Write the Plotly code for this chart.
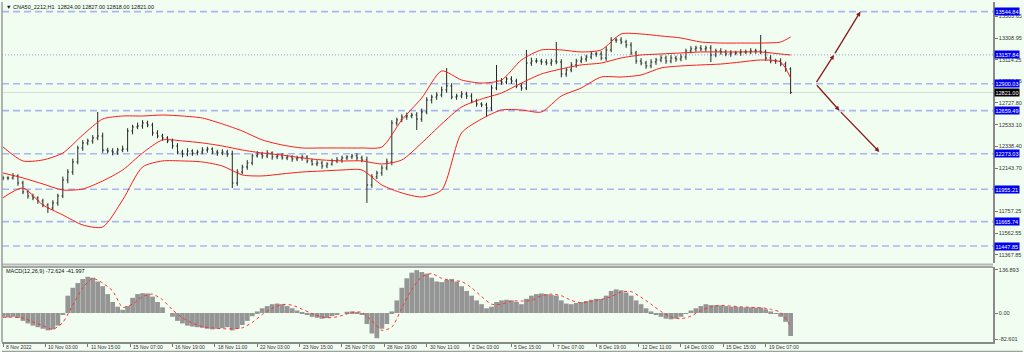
import plotly.graph_objects as go

# ---------------- data ----------------
header_text = "CNA50_2212,H1  12824.00 12827.00 12818.00 12821.00"
macd_text = "MACD(12,26,9) -72.624 -41.997"

close = [
    12057, 12057, 12075, 12012, 11932, 11896, 11878, 11851, 11815, 11788,
    11833, 11896, 12039, 12110, 12200, 12325, 12370, 12388, 12415, 12432,
    12307, 12298, 12289, 12307, 12316, 12477, 12513, 12522, 12549, 12531,
    12459, 12432, 12415, 12388, 12343, 12289, 12271, 12298, 12280, 12289,
    12307, 12316, 12289, 12280, 12289, 12271, 12012, 12110, 12155, 12191,
    12254, 12271, 12254, 12280, 12245, 12254, 12236, 12245, 12227, 12236,
    12245, 12209, 12182, 12191, 12164, 12182, 12209, 12218, 12236, 12245,
    12254, 12236, 12218, 11994, 12066, 12101, 12146, 12200, 12549, 12576,
    12602, 12611, 12620, 12584, 12647, 12754, 12781, 12799, 12844, 12880,
    12781, 12790, 12808, 12790, 12745, 12719, 12710, 12683, 12862, 12924,
    12915, 12942, 12924, 12880, 12862, 13085, 13103, 13103, 13094, 13085,
    13103, 13094, 12987, 13023, 13068, 13103, 13121, 13139, 13166, 13166,
    13130, 13202, 13291, 13291, 13273, 13246, 13175, 13103, 13085, 13059,
    13094, 13112, 13130, 13103, 13130, 13121, 13139, 13193, 13211, 13220,
    13211, 13220, 13157, 13193, 13184, 13166, 13175, 13175, 13184, 13184,
    13193, 13193, 13184, 13130, 13103, 13103, 13076, 13032, 12821,
]
first_open = 12050
wick_up = [
    20, 15, 25, 15, 20, 15, 20, 15, 20, 15,
    25, 20, 30, 25, 30, 20, 25, 20, 25, 215,
    30, 20, 25, 20, 30, 25, 20, 30, 25, 20,
    20, 25, 20, 15, 20, 25, 20, 25, 15, 20,
    25, 20, 15, 20, 25, 20, 30, 25, 20, 25,
    20, 25, 20, 25, 15, 20, 25, 20, 15, 20,
    20, 15, 20, 25, 20, 15, 20, 25, 20, 15,
    20, 25, 20, 30, 25, 20, 25, 30, 25, 20,
    25, 30, 20, 25, 30, 25, 20, 25, 30, 160,
    25, 20, 25, 20, 25, 20, 15, 20, 25, 144,
    25, 20, 25, 20, 25, 117, 30, 25, 20, 25,
    20, 170, 25, 20, 25, 20, 25, 20, 25, 20,
    25, 30, 25, 20, 25, 20, 25, 20, 25, 20,
    25, 20, 25, 20, 25, 20, 25, 20, 25, 20,
    25, 20, 25, 20, 25, 20, 25, 20, 25, 20,
    25, 20, 143, 20, 25, 20, 25, 20, 15,
]
wick_dn = [
    15, 20, 15, 25, 20, 25, 20, 25, 20, 44,
    20, 25, 20, 30, 25, 20, 25, 20, 25, 20,
    25, 20, 30, 25, 20, 25, 30, 20, 25, 20,
    25, 20, 25, 20, 25, 20, 30, 20, 25, 20,
    20, 25, 20, 25, 20, 25, 45, 25, 20, 25,
    20, 15, 25, 20, 25, 20, 15, 20, 25, 20,
    25, 20, 15, 20, 25, 20, 15, 20, 25, 20,
    20, 25, 20, 160, 25, 20, 25, 20, 30, 25,
    20, 25, 20, 98, 25, 20, 30, 25, 20, 25,
    20, 25, 20, 25, 20, 25, 20, 80, 25, 20,
    25, 20, 25, 20, 25, 20, 25, 20, 25, 20,
    25, 20, 30, 25, 20, 25, 20, 25, 20, 25,
    20, 25, 20, 25, 20, 25, 20, 25, 20, 25,
    20, 25, 20, 25, 20, 25, 20, 25, 20, 25,
    20, 25, 63, 20, 25, 20, 25, 20, 25, 20,
    20, 25, 20, 25, 20, 25, 20, 25, 12,
]

# Bollinger bands sampled every 4th bar (plus the last bar)
bb_upper = [12334, 12209, 12218, 12280, 12441, 12584, 12611, 12611, 12620, 12611,
            12593, 12540, 12477, 12397, 12352, 12325, 12325, 12325, 12325, 12334,
            12576, 12772, 13014, 12933, 12906, 12933, 13112, 13202, 13202, 13184,
            13202, 13345, 13345, 13327, 13309, 13273, 13264, 13264, 13264, 13273,
            13318]
bb_middle = [12101, 12057, 12003, 11949, 11958, 12030, 12128, 12280, 12397, 12388,
             12370, 12343, 12307, 12280, 12262, 12236, 12218, 12209, 12209, 12182,
             12218, 12370, 12540, 12692, 12763, 12817, 12906, 12987, 13032, 13068,
             13085, 13130, 13157, 13166, 13175, 13184, 13184, 13184, 13184, 13166,
             13157]
bb_lower = [11880, 11967, 11815, 11726, 11636, 11618, 11860, 12155, 12209, 12209,
            12200, 12164, 12084, 12075, 12093, 12110, 12119, 12128, 12128, 11994,
            11923, 11887, 11949, 12460, 12584, 12665, 12665, 12647, 12790, 12862,
            12960, 12960, 12978, 13041, 13059, 13068, 13076, 13094, 13112, 13094,
            12951]

macd_main = [
    -12, -14, -12, -16, -25, -33, -40, -45, -50, -55,
    -52, -40, -5, 55, 80, 95, 108, 115, 112, 100,
    85, 60, 35, 20, 10, 22, 48, 60, 63, 62,
    52, 35, 18, 0, -12, -25, -33, -40, -43, -45,
    -47, -50, -52, -50, -48, -45, -55, -50, -38, -25,
    -10, 5, 15, 22, 28, 30, 28, 22, 15, 8,
    2, -5, -12, -15, -18, -16, -10, -5, 0, 4,
    5, 2, -5, -35, -65, -80, -50, -35, 5, 40,
    80, 110, 128, 136, 130, 125, 112, 100, 98, 105,
    108, 100, 85, 70, 55, 40, 28, 15, 20, 35,
    40, 42, 40, 35, 28, 45, 55, 60, 62, 60,
    58, 55, 40, 30, 28, 32, 35, 38, 42, 45,
    45, 55, 70, 75, 72, 65, 55, 40, 28, 15,
    5, -5, -12, -18, -20, -18, -12, -2, 8, 15,
    22, 28, 25, 25, 24, 22, 20, 20, 19, 18,
    18, 17, 17, 12, 5, -3, -12, -28, -73,
]
# signal line sampled every 2nd bar
macd_signal = [
    -14, -13, -16, -28, -40, -52, -30, 25, 80, 110,
    95, 70, 18, 28, 52, 60, 42, 10, -15, -32,
    -43, -47, -50, -50, -47, -30, -5, 15, 27, 25,
    12, -2, -13, -15, -8, 2, 2, -25, -55, -45,
    15, 75, 115, 125, 110, 103, 100, 80, 52, 28,
    28, 38, 38, 40, 55, 60, 55, 40, 32, 37,
    43, 52, 67, 68, 50, 28, 5, -12, -18, -10,
    8, 20, 24, 22, 20, 18, 17, 12, 2, -42,
]

level_values = [13544.84, 13157.84, 12900.03, 12659.49, 12273.03, 11955.21, 11665.74, 11447.85]
level_dotted = [False, True, False, False, False, False, False, False]
last_price = 12821.00

price_tick_labels = ["13503.65", "13308.95", "13114.25", "12923.55", "12727.80", "12533.10",
                     "12338.40", "12143.70", "11757.25", "11562.55", "11367.85"]
macd_tick_labels = ["136.893", "0.00", "-82.601"]

time_tick_bars = [0, 8.5, 17, 25.5, 34, 42.5, 51, 59.5, 68, 76.5, 85, 93.5, 102,
                  110.5, 119, 127.5, 136, 144.5, 153]
time_tick_labels = ["8 Nov 2022", "10 Nov 03:00", "11 Nov 15:00", "15 Nov 07:00", "16 Nov 19:00",
                    "18 Nov 11:00", "22 Nov 03:00", "23 Nov 15:00", "25 Nov 07:00", "28 Nov 19:00",
                    "30 Nov 11:00", "2 Dec 03:00", "5 Dec 15:00", "7 Dec 07:00", "8 Dec 19:00",
                    "12 Dec 11:00", "14 Dec 03:00", "15 Dec 15:00", "19 Dec 07:00"]

# forecast arrows (bar, price)
forecast_start = (163, 12900.03)
forecast_up = [(166.7, 13157.84), (172, 13544.84)]
forecast_down = [(167.8, 12659.49), (175.8, 12290.0)]

# ---------------- build ----------------
W, H = 1024, 352
ML, MR, MT, MB = 2, 28, 2, 10
PH = H - MT - MB


def py(px):
    return (H - MB - px) / PH


bars = list(range(len(close)))
opens = [first_open] + close[:-1]
highs = [max(o, c) + w for o, c, w in zip(opens, close, wick_up)]
lows = [min(o, c) - w for o, c, w in zip(opens, close, wick_dn)]
bb_bars = bars[::4] + [bars[-1]]
sig_bars = bars[::2]

BG = "#F0FDF0"
TXT = "#333333"
FONT = "Liberation Sans"
LEVEL_C = "#A9B6F2"
RED = "#FF1A1A"

fig = go.Figure()

for band in (bb_upper, bb_middle, bb_lower):
    fig.add_trace(go.Scatter(x=bb_bars, y=band, mode="lines",
                             line=dict(color=RED, width=1, shape="spline", smoothing=0.7),
                             hoverinfo="skip", showlegend=False))

fig.add_trace(go.Ohlc(x=bars, open=opens, high=highs, low=lows, close=close,
                      increasing=dict(line=dict(color="#262626", width=1)),
                      decreasing=dict(line=dict(color="#262626", width=1)),
                      tickwidth=0.25, showlegend=False))

fig.add_trace(go.Bar(x=bars, y=macd_main, marker=dict(color="#959595", line=dict(width=0)),
                     yaxis="y2", showlegend=False))
fig.add_trace(go.Scatter(x=sig_bars, y=macd_signal, mode="lines", yaxis="y2",
                         line=dict(color="#FF3030", width=1, dash="dot", shape="spline", smoothing=0.6),
                         showlegend=False))

shapes = []
for v, dotted in zip(level_values, level_dotted):
    shapes.append(dict(type="line", xref="paper", x0=0, x1=1, yref="y", y0=v, y1=v,
                       line=dict(color="#8E9FEA" if dotted else LEVEL_C,
                                 width=1 if dotted else 1.6,
                                 dash="1px,2px" if dotted else "7px,4px"),
                       layer="below"))
shapes.append(dict(type="line", xref="paper", x0=0, x1=1, yref="y", y0=last_price, y1=last_price,
                   line=dict(color="#D6DDD6", width=1), layer="below"))
# panel separator / frame
shapes.append(dict(type="line", xref="paper", x0=0, x1=1, yref="paper", y0=py(264.5), y1=py(264.5),
                   line=dict(color="#B8B8B8", width=2)))
shapes.append(dict(type="line", xref="paper", x0=0, x1=1, yref="paper", y0=py(267), y1=py(267),
                   line=dict(color="#8A8A8A", width=1.5)))
shapes.append(dict(type="line", xref="paper", x0=0, x1=0, yref="paper", y0=0, y1=1,
                   line=dict(color="#9A9A9A", width=1.5)))
shapes.append(dict(type="line", xref="paper", x0=0, x1=1.03, yref="paper", y0=py(351.5), y1=py(351.5),
                   line=dict(color="#A0A0A0", width=1.5)))

annotations = []
annotations.append(dict(xref="paper", yref="paper", x=0.002, y=1, xanchor="left", yanchor="top",
                        text="▼ " + header_text, showarrow=False,
                        font=dict(family=FONT, size=5.5, color="#111111")))
annotations.append(dict(xref="paper", yref="paper", x=0.002, y=py(271), xanchor="left", yanchor="middle",
                        text=macd_text, showarrow=False,
                        font=dict(family=FONT, size=5.5, color="#111111")))
for b, t in zip(time_tick_bars, time_tick_labels):
    annotations.append(dict(xref="x", yref="paper", x=b, y=py(341.5), xanchor="left", yanchor="top",
                            text=t, showarrow=False, xshift=1,
                            font=dict(family=FONT, size=5, color=TXT)))
for v in level_values:
    annotations.append(dict(xref="paper", yref="y", x=1, y=v, xanchor="left", yanchor="middle",
                            xshift=1, text=f"{v:.2f}", showarrow=False, bgcolor="#0000F0",
                            borderpad=0.5, font=dict(family=FONT, size=5.5, color="#FFFFFF")))
annotations.append(dict(xref="paper", yref="y", x=1, y=last_price, xanchor="left", yanchor="middle",
                        xshift=1, text=f"{last_price:.2f}", showarrow=False, bgcolor="#000000",
                        borderpad=0.5, font=dict(family=FONT, size=5.5, color="#FFFFFF")))

ARROW_C = "#8B1A1A"
for path in (forecast_up, forecast_down):
    tail = forecast_start
    for head in path:
        annotations.append(dict(xref="x", yref="y", axref="x", ayref="y",
                                x=head[0], y=head[1], ax=tail[0], ay=tail[1],
                                text="", showarrow=True, arrowhead=2, arrowsize=0.7,
                                arrowwidth=1.3, arrowcolor=ARROW_C, standoff=0))
        tail = head

fig.update_layout(
    width=W, height=H,
    margin=dict(l=ML, r=MR, t=MT, b=MB),
    paper_bgcolor=BG, plot_bgcolor=BG,
    showlegend=False, bargap=0.05,
    xaxis=dict(range=[-0.2, 198.6], anchor="y2", showgrid=False, zeroline=False,
               rangeslider=dict(visible=False), tickvals=time_tick_bars, ticks="outside",
               ticklen=3, tickcolor="#777777", showticklabels=False,
               showline=True, linecolor="#8A8A8A", linewidth=1.5),
    yaxis=dict(domain=[py(263), 1], range=[11296, 13631], side="right", showgrid=False,
               zeroline=False, tickvals=[float(t) for t in price_tick_labels],
               ticktext=price_tick_labels, ticks="outside", ticklen=3, tickcolor="#777777",
               tickfont=dict(family=FONT, size=5.5, color=TXT),
               showline=True, linecolor="#8A8A8A", linewidth=1.5),
    yaxis2=dict(domain=[0, py(267)], range=[-92, 146], side="right", anchor="x", showgrid=False,
                zeroline=False, tickvals=[float(t) for t in macd_tick_labels],
                ticktext=macd_tick_labels, ticks="outside", ticklen=3, tickcolor="#777777",
                tickfont=dict(family=FONT, size=5.5, color=TXT),
                showline=True, linecolor="#8A8A8A", linewidth=1.5),
    shapes=shapes, annotations=annotations,
)

fig.write_html("out.html")
